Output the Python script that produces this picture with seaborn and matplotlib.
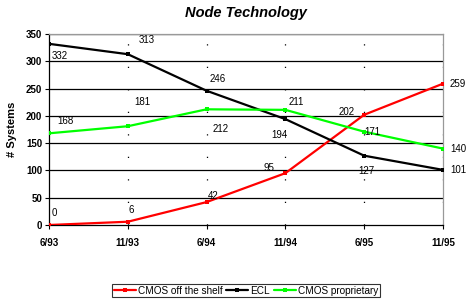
import matplotlib
matplotlib.use("Agg")
import matplotlib.pyplot as plt
import seaborn as sns
import pandas as pd

periods = ["6/93", "11/93", "6/94", "11/94", "6/95", "11/95"]
cmos_shelf = [0, 6, 42, 95, 202, 259]
ecl = [332, 313, 246, 194, 127, 101]
cmos_prop = [168, 181, 212, 211, 171, 140]
series_names = ["CMOS off the shelf", "ECL", "CMOS proprietary"]
y_ticks = [0, 50, 100, 150, 200, 250, 300, 350]

colors = {"CMOS off the shelf": "#ff0000", "ECL": "#000000", "CMOS proprietary": "#00ff00"}

rows = []
for name, vals in zip(series_names, [cmos_shelf, ecl, cmos_prop]):
    for i, v in enumerate(vals):
        rows.append({"idx": i, "value": v, "series": name})
df = pd.DataFrame(rows)

sns.set_theme(style="white")
plt.rcParams["font.family"] = ["Liberation Sans", "DejaVu Sans"]
plt.rcParams["text.color"] = "black"
plt.rcParams["axes.labelcolor"] = "black"
plt.rcParams["xtick.color"] = "black"
plt.rcParams["ytick.color"] = "black"
plt.rcParams["axes.titlecolor"] = "black"

fig = plt.figure(figsize=(4.66, 3.02), dpi=100)
ax = fig.add_axes([49/466, 1-225/302, (443-49)/466, (225-34)/302])

# gridlines
for t in y_ticks[1:]:
    ax.axhline(t, color="black", lw=0.9, zorder=1)
for i in range(1, len(periods)):
    ax.axvline(i, color="black", lw=0.9, linestyle=(0, (1, 17)), zorder=1)

sns.lineplot(data=df, x="idx", y="value", hue="series", palette=colors,
             hue_order=series_names, marker="s", markersize=3.5, markeredgewidth=0,
             linewidth=1.6, ax=ax, legend=True, zorder=3)

ax.set_xlim(0, len(periods) - 1)
ax.set_ylim(0, 350)
ax.set_xticks(range(len(periods)))
ax.set_xticklabels(periods, fontsize=7, fontweight="bold")
ax.set_yticks(y_ticks)
ax.set_yticklabels([str(t) for t in y_ticks], fontsize=7, fontweight="bold")
ax.tick_params(axis="both", length=3, width=0.8, color="black", pad=2, direction="out",
               bottom=True, left=True)
ax.tick_params(axis="x", pad=6)
ax.set_xlabel("")
ax.set_ylabel("# Systems", fontsize=8, fontweight="bold", labelpad=6)

for side in ["left", "bottom"]:
    ax.spines[side].set_color("black")
    ax.spines[side].set_linewidth(0.9)
for side in ["top", "right"]:
    ax.spines[side].set_color("#999999")
    ax.spines[side].set_linewidth(0.9)

ax.set_title("Node Technology", fontsize=10.5, fontweight="bold", fontstyle="italic", pad=12)

# data labels (offsets in pixels)
offsets = {
    "CMOS off the shelf": [(5, 12), (3, 12), (7, 6), (-16, 5), (-18, 3), (15, 0)],
    "ECL": [(11, -12), (19, 14), (11, 12), (-6, -16), (2, -15), (15, 0)],
    "CMOS proprietary": [(16, 12), (15, 24), (14, -20), (11, 8), (8, 0), (15, 0)],
}
for name, vals in zip(series_names, [cmos_shelf, ecl, cmos_prop]):
    for i, v in enumerate(vals):
        dx, dy = offsets[name][i]
        ax.annotate(str(v), (i, v), xytext=(dx, dy), textcoords="offset pixels",
                    ha="center", va="center", fontsize=7, color="black",
                    annotation_clip=False, zorder=4)

leg = ax.legend(loc="upper center", bbox_to_anchor=(0.5, -0.285), ncol=3, fontsize=7.2,
                frameon=True, fancybox=False, edgecolor="black", handlelength=2.2,
                handletextpad=0.2, columnspacing=0.4, borderpad=0.15)
leg.get_frame().set_linewidth(0.8)
for h in leg.get_lines():
    h.set_linewidth(1.6)
    h.set_markersize(3)

fig.savefig("out.png", dpi=100)
